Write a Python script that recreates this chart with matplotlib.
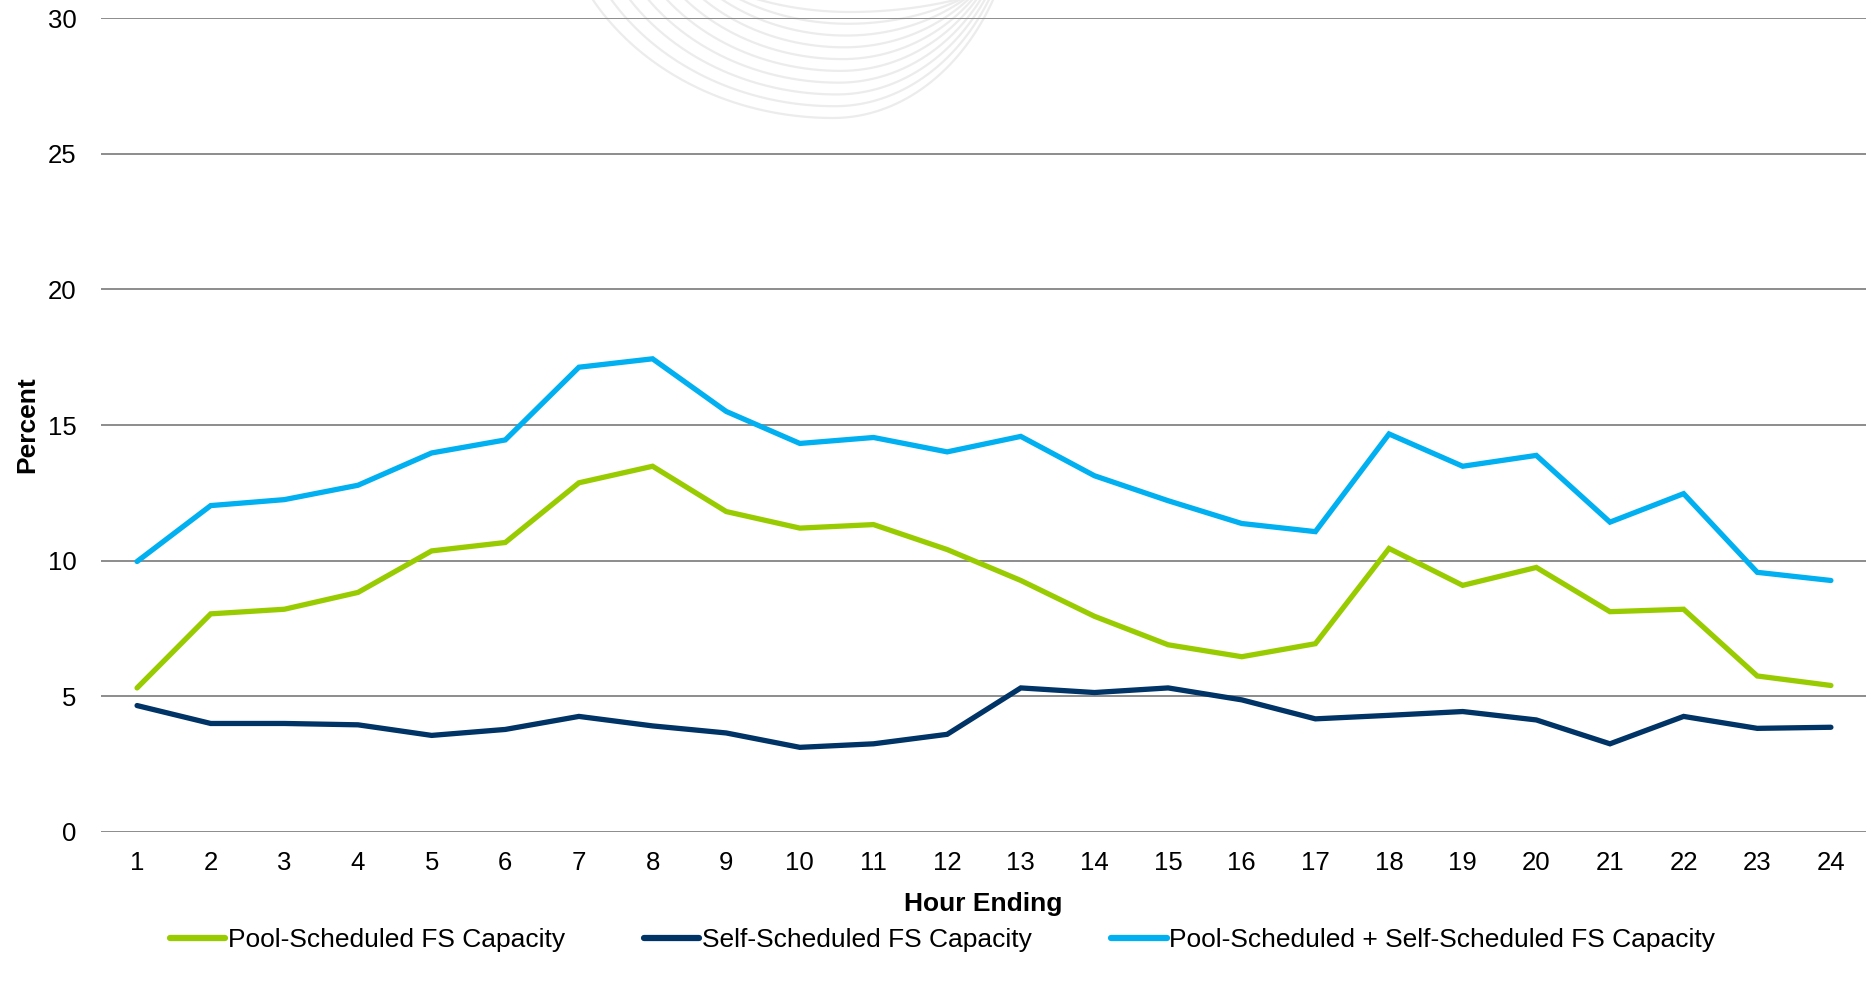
import matplotlib
matplotlib.use("Agg")
import matplotlib.pyplot as plt
from matplotlib.lines import Line2D
from matplotlib.transforms import IdentityTransform
import numpy as np

plt.rcParams['font.family'] = ['Liberation Sans', 'DejaVu Sans']

# data
hours = list(range(1, 25))
pool = [5.31, 8.04, 8.21, 8.83, 10.36, 10.67, 12.87, 13.48, 11.81, 11.20, 11.33, 10.41,
        9.27, 7.95, 6.90, 6.46, 6.94, 10.45, 9.09, 9.75, 8.12, 8.21, 5.75, 5.40]
self_sched = [4.66, 4.00, 4.00, 3.95, 3.56, 3.78, 4.26, 3.91, 3.65, 3.12, 3.25, 3.60,
              5.31, 5.14, 5.31, 4.87, 4.17, 4.30, 4.44, 4.13, 3.25, 4.26, 3.82, 3.86]
combined = [9.97, 12.03, 12.25, 12.78, 13.97, 14.45, 17.13, 17.44, 15.50, 14.32, 14.54, 14.01,
            14.58, 13.13, 12.21, 11.37, 11.07, 14.67, 13.48, 13.88, 11.42, 12.47, 9.57, 9.27]
labels = ['Pool-Scheduled FS Capacity', 'Self-Scheduled FS Capacity',
          'Pool-Scheduled + Self-Scheduled FS Capacity']
colors = ['#99cc00', '#003366', '#00b0f0']
yticks = [0, 5, 10, 15, 20, 25, 30]

W, H = 1870, 990
fig = plt.figure(figsize=(W / 100, H / 100), dpi=100)
ax = fig.add_axes([0.054, 0.1596, 0.944, 0.8222])

# faint logo watermark at the top (decoration, in pixels from top-left)
s = np.linspace(-1, 1, 300)
for i in range(10):
    t = i / 9
    yb = 12 + t * 106        # depth of the arc
    xl = 760 - t * 167       # where the left side meets the top edge
    xr = 955 + t * 38
    xb = 850 - t * 17
    off = 120
    b = yb + off
    k = np.sqrt(1 - (off / b) ** 2)
    xs = np.where(s < 0, xb + s * (xb - xl) / k, xb + s * (xr - xb) / k)
    ys = -off + b * np.sqrt(1 - s ** 2)
    fig.add_artist(Line2D(xs, H - ys, transform=IdentityTransform(),
                          color='#ececec', lw=1.6, zorder=0))

for ys, lab, c in zip([pool, self_sched, combined], labels, colors):
    ax.plot(hours, ys, color=c, lw=3.8, label=lab, solid_capstyle='round',
            solid_joinstyle='miter', zorder=3)

ax.set_xlim(0.51, 24.48)
ax.set_ylim(0, 30)
ax.set_yticks(yticks)
ax.set_xticks(hours)
ax.set_yticklabels([str(v) for v in yticks])
ax.grid(axis='y', color='#8c8c8c', lw=1.4, zorder=1)
ax.set_axisbelow(True)
for sp in ax.spines.values():
    sp.set_visible(False)
ax.tick_params(length=0, labelsize=18.5, colors='black')
ax.tick_params(axis='y', pad=17.5)
ax.tick_params(axis='x', pad=14)
ax.patch.set_alpha(0)

ax.set_xlabel('Hour Ending', fontsize=19, fontweight='bold', labelpad=12)
ax.set_ylabel('Percent', fontsize=19, fontweight='bold', labelpad=6)

leg = fig.legend(loc='center', bbox_to_anchor=(0.504, 0.05), ncol=3, frameon=False,
                 fontsize=19, handlelength=2.1, handletextpad=0.1, columnspacing=3.0)
for line in leg.get_lines():
    line.set_linewidth(4.5)

fig.savefig('out.png', dpi=100)
